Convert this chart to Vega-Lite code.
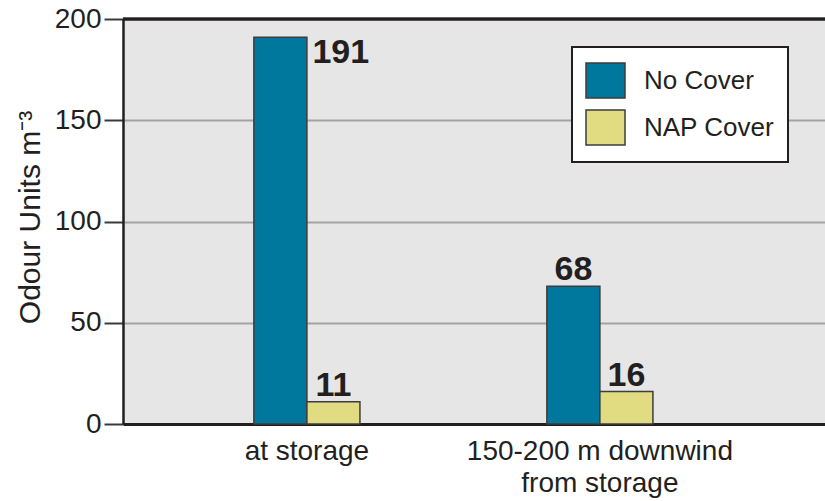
{
  "$schema": "https://vega.github.io/schema/vega-lite/v6.json",
  "width": 702,
  "height": 405,
  "autosize": "none",
  "padding": {"left": 123, "top": 19, "right": 0, "bottom": 77},
  "background": "white",
  "config": {"view": {"stroke": null, "fill": "#e6e6e6"}, "font": "Liberation Sans"},
  "data": {
    "values": [
      {"location": "at storage", "cover": "No Cover", "value": 191},
      {"location": "at storage", "cover": "NAP Cover", "value": 11},
      {"location": "150-200 m downwind from storage", "cover": "No Cover", "value": 68},
      {"location": "150-200 m downwind from storage", "cover": "NAP Cover", "value": 16}
    ]
  },
  "layer": [
    {
      "mark": {"type": "bar", "stroke": "#3d3d3d", "strokeWidth": 1.5},
      "encoding": {
        "x": {
          "field": "location", "type": "nominal",
          "sort": ["at storage", "150-200 m downwind from storage"],
          "scale": {"paddingInner": 0.638, "paddingOuter": 0.517, "align": 0.432},
          "axis": {
            "title": null, "domainColor": "#231f20", "domainWidth": 3, "ticks": false,
            "labelFontSize": 28, "labelColor": "#231f20", "labelPadding": 13, "labelAngle": 0,
            "labelLineHeight": 32, "labelLimit": 500, "labelOverlap": false,
            "labelExpr": "datum.value == '150-200 m downwind from storage' ? ['150-200 m downwind', 'from storage'] : datum.label"
          }
        },
        "xOffset": {"field": "cover", "sort": ["No Cover", "NAP Cover"], "scale": {"paddingInner": 0, "paddingOuter": 0}},
        "y": {
          "field": "value", "type": "quantitative",
          "scale": {"domain": [0, 200], "nice": false},
          "axis": {
            "title": "Odour Units m⁻³", "values": [0, 50, 100, 150, 200],
            "grid": true, "gridColor": "#a3a3a3", "gridWidth": 2,
            "domainColor": "#231f20", "domainWidth": 2.5,
            "tickColor": "#3a3a3a", "tickSize": 19, "tickWidth": 2,
            "labelFontSize": 28, "labelColor": "#231f20", "labelPadding": 3,
            "titleFontSize": 30, "titleFontWeight": "normal", "titleColor": "#231f20",
            "titleX": -84, "titleY": 198, "titleAngle": -90, "titleBaseline": "alphabetic", "titleAlign": "center"
          }
        },
        "color": {
          "field": "cover", "type": "nominal",
          "scale": {"domain": ["No Cover", "NAP Cover"], "range": ["#00789e", "#e1dc82"]},
          "legend": {
            "title": null, "orient": "none", "legendX": 449, "legendY": 28,
            "fillColor": "white", "strokeColor": "#231f20", "padding": 13,
            "labelFontSize": 26, "labelColor": "#231f20", "labelOffset": 18,
            "symbolType": "M-1,-0.9H1V0.9H-1Z", "symbolSize": 1521,
            "symbolStrokeColor": "#3d3d3d", "symbolStrokeWidth": 1.5, "rowPadding": 4,
            "encode": {"legend": {"update": {"strokeWidth": {"value": 2}}}}
          }
        }
      }
    },
    {
      "transform": [{"filter": "datum.value < 150"}],
      "mark": {"type": "text", "fontSize": 34, "fontWeight": "bold", "color": "#231f20", "align": "center", "baseline": "alphabetic", "dy": -6},
      "encoding": {
        "x": {"field": "location", "type": "nominal", "sort": ["at storage", "150-200 m downwind from storage"]},
        "xOffset": {"field": "cover", "sort": ["No Cover", "NAP Cover"]},
        "y": {"field": "value", "type": "quantitative"},
        "text": {"field": "value", "type": "quantitative"}
      }
    },
    {
      "transform": [{"filter": "datum.value >= 150"}],
      "mark": {"type": "text", "fontSize": 34, "fontWeight": "bold", "color": "#231f20", "align": "left", "baseline": "alphabetic", "dx": 32, "dy": 26},
      "encoding": {
        "x": {"field": "location", "type": "nominal", "sort": ["at storage", "150-200 m downwind from storage"]},
        "xOffset": {"field": "cover", "sort": ["No Cover", "NAP Cover"]},
        "y": {"field": "value", "type": "quantitative"},
        "text": {"field": "value", "type": "quantitative"}
      }
    },
    {
      "mark": {"type": "rule", "color": "#231f20", "strokeWidth": 2.5},
      "encoding": {"y": {"datum": 200}}
    }
  ]
}
